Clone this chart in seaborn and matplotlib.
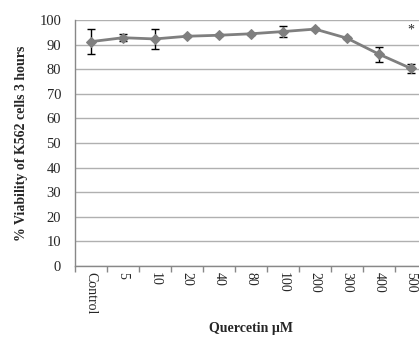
import numpy as np
import pandas as pd
import seaborn as sns
import matplotlib
matplotlib.use('Agg')
import matplotlib.pyplot as plt

doses = ['Control', '5', '10', '20', '40', '80', '100', '200', '300', '400', '500']
viability = [91.2, 92.8, 92.3, 93.4, 93.8, 94.4, 95.3, 96.3, 92.6, 86.1, 80.3]
errors = [5.1, 1.5, 3.9, 0.5, 0.5, 0.4, 2.2, 0.5, 0.4, 3.1, 1.8]

df = pd.DataFrame({'pos': np.arange(len(doses)), 'viability': viability})

sns.set_style('white')
plt.rcParams['font.family'] = ['Liberation Serif', 'DejaVu Serif']

fig = plt.figure(figsize=(4.19, 3.38), dpi=100)
ax = fig.add_axes([75/419, 1 - 266/338, 352/419, 246/338])

ax.yaxis.grid(True, color='#b0b0b0', linewidth=1)
ax.set_axisbelow(True)
ax.errorbar(df['pos'], df['viability'], yerr=errors, fmt='none',
            ecolor='black', elinewidth=1, capsize=3, capthick=1, zorder=3)
sns.lineplot(data=df, x='pos', y='viability', ax=ax, color='#7f7f7f',
             linewidth=2, marker='D', markersize=5, markeredgecolor='#7f7f7f', zorder=4)

ax.text(10, 96, '*', ha='center', va='center', fontsize=10)

ax.set_xlim(-0.5, 10.5)
ax.set_ylim(0, 100)
ax.set_yticks(range(0, 101, 10))
ax.set_xticks(range(len(doses)))
ax.set_xticklabels(doses, rotation=270, fontsize=10)
ax.set_xticks(np.arange(-0.5, 10.6, 1), minor=True)
ax.tick_params(axis='x', which='major', length=0, pad=4)
ax.tick_params(axis='x', which='minor', length=4, color='#888888', width=1, direction='out')
ax.tick_params(axis='y', length=4, color='#888888', direction='out', labelsize=10.5, pad=6)
ax.xaxis.set_tick_params(which='minor', bottom=True)

for s in ['top', 'right']:
    ax.spines[s].set_visible(False)
for s in ['left', 'bottom']:
    ax.spines[s].set_color('#888888')
    ax.spines[s].set_linewidth(1)

ax.set_xlabel('Quercetin µM', fontsize=10, fontweight='bold', labelpad=6)
ax.set_ylabel('% Viability of K562 cells 3 hours', fontsize=10, fontweight='bold', labelpad=8)

fig.savefig('out.png', dpi=100)
